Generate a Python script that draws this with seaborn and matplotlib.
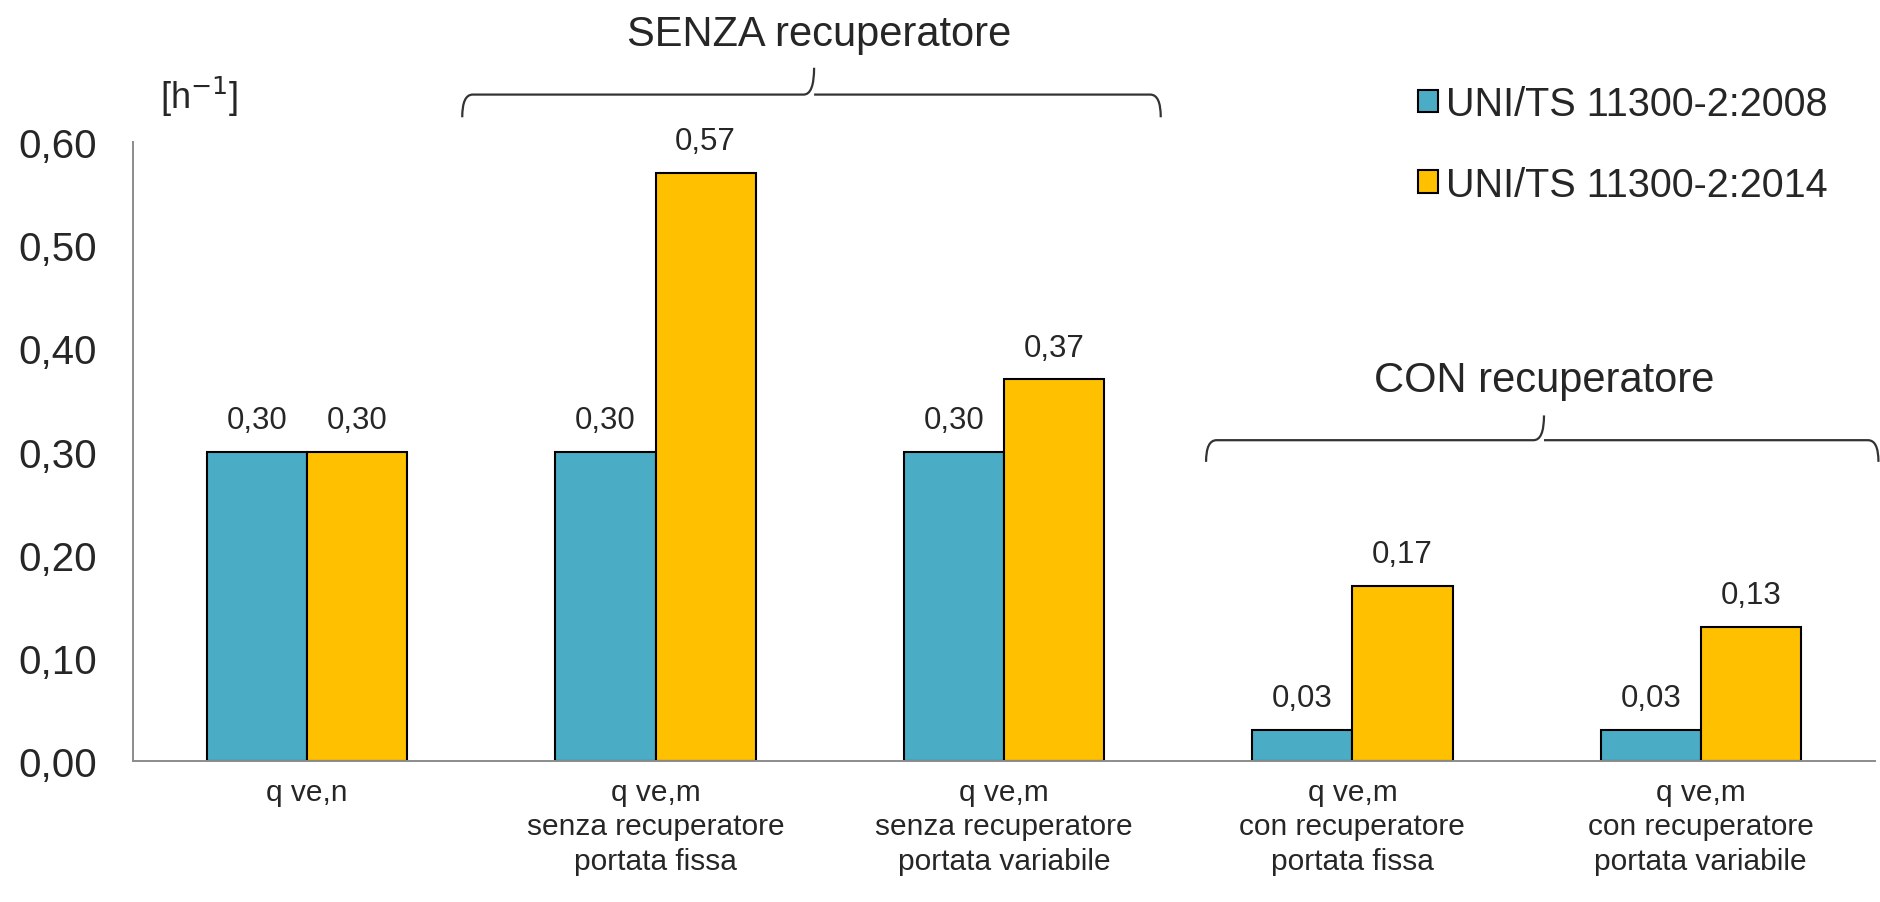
import numpy as np
import pandas as pd
import seaborn as sns
import matplotlib.pyplot as plt
from matplotlib.path import Path
from matplotlib.patches import PathPatch

categories = ["q ve,n",
              "q ve,m\nsenza recuperatore\nportata fissa",
              "q ve,m\nsenza recuperatore\nportata variabile",
              "q ve,m\ncon recuperatore\nportata fissa",
              "q ve,m\ncon recuperatore\nportata variabile"]
series = ["UNI/TS 11300-2:2008", "UNI/TS 11300-2:2014"]
values_2008 = [0.30, 0.30, 0.30, 0.03, 0.03]
values_2014 = [0.30, 0.57, 0.37, 0.17, 0.13]
colors = ["#4BACC6", "#FFC000"]
y_ticks = [0.0, 0.1, 0.2, 0.3, 0.4, 0.5, 0.6]
group_titles = ["SENZA recuperatore", "CON recuperatore"]

df = pd.DataFrame({
    "cat": categories * 2,
    "serie": [series[0]] * 5 + [series[1]] * 5,
    "val": values_2008 + values_2014,
})

sns.set_style("white")
plt.rcParams["font.family"] = ["Liberation Sans", "DejaVu Sans"]

fig = plt.figure(figsize=(18.81, 9.03), dpi=100)
ax = fig.add_axes([0.0707, 0.1561, 0.9261, 0.6855])

sns.barplot(data=df, x="cat", y="val", hue="serie", palette=colors,
            width=0.575, gap=0, edgecolor="black", linewidth=1.5,
            saturation=1, ax=ax)

# etichette valori con la virgola decimale
for cont in ax.containers:
    ax.bar_label(cont, labels=[f"{v:.2f}".replace(".", ",") for v in cont.datavalues],
                 padding=12, fontsize=22.5)

ax.set_ylim(0, 0.6)
ax.set_xlim(-0.5, 4.5)
ax.set_yticks(y_ticks)
ax.set_yticklabels([f"{v:.2f}".replace(".", ",") for v in y_ticks], fontsize=29)
ax.set_xticks(range(5))
ax.set_xticklabels(categories, fontsize=21.5, linespacing=1.3)
ax.set_xticks(np.arange(-0.5, 5, 1), minor=True)
ax.tick_params(axis="x", which="major", length=0, pad=12)
ax.tick_params(axis="x", which="minor", length=8, width=1.4, color="#8c8c8c", direction="out")
ax.tick_params(axis="y", length=8, width=1.4, color="#8c8c8c", direction="out", pad=18)
ax.set_xlabel("")
ax.set_ylabel("")
for s in ["top", "right"]:
    ax.spines[s].set_visible(False)
for s in ["left", "bottom"]:
    ax.spines[s].set_color("#8c8c8c")
    ax.spines[s].set_linewidth(1.4)

ax.text(-0.31, 0.645, "[h$^{-1}$]", fontsize=26, ha="center", va="center")

def brace(x0, x1, xm, y, y_end, y_peak):
    r = 0.03
    verts = [(x0, y_end), (x0, y), (x0 + r, y), (xm - r, y), (xm, y), (xm, y_peak),
             (xm, y), (xm + r, y), (x1 - r, y), (x1, y), (x1, y_end)]
    codes = [Path.MOVETO, Path.CURVE3, Path.CURVE3, Path.LINETO, Path.CURVE3, Path.CURVE3,
             Path.MOVETO, Path.CURVE3, Path.LINETO, Path.CURVE3, Path.CURVE3]
    ax.add_patch(PathPatch(Path(verts, codes), fill=False, lw=1.6, color="#333333", clip_on=False))

brace(0.445, 2.45, 1.455, 0.646, 0.624, 0.672)
ax.text(1.47, 0.705, group_titles[0], fontsize=30, ha="center", va="center", clip_on=False)
brace(2.58, 4.51, 3.55, 0.311, 0.29, 0.335)
ax.text(3.55, 0.369, group_titles[1], fontsize=30, ha="center", va="center")

handles, labels = ax.get_legend_handles_labels()
ax.legend(handles, labels, loc="upper left", bbox_to_anchor=(1418 / 1881, 1 - 86 / 903),
          bbox_transform=fig.transFigure, frameon=False, fontsize=28.5,
          handlelength=0.5, handleheight=0.5, handletextpad=0.2,
          labelspacing=1.08, borderpad=0, borderaxespad=0)

fig.savefig("out.png", dpi=100)
